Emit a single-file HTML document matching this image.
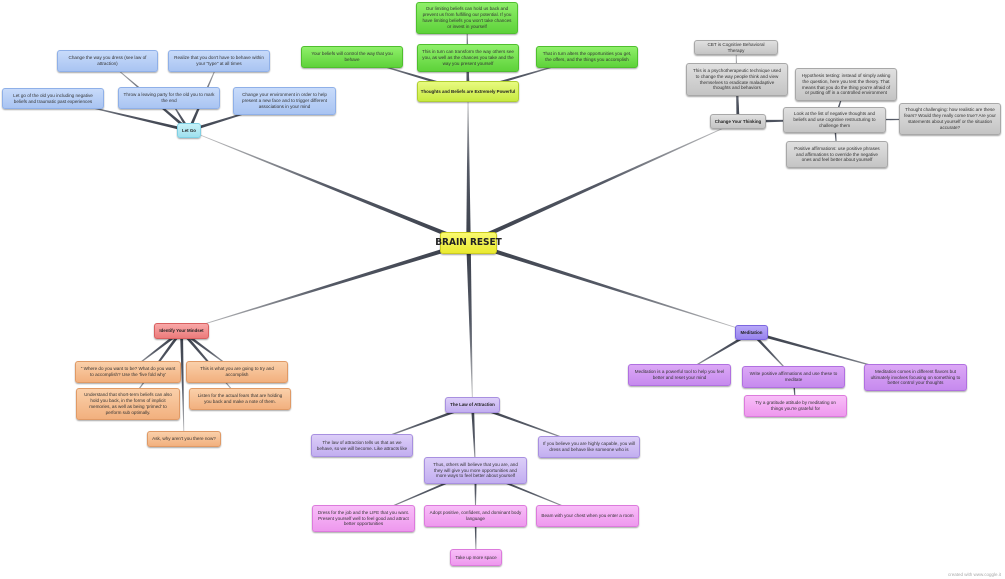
<!DOCTYPE html>
<html><head><meta charset="utf-8"><style>
body{margin:0;width:1005px;height:579px;background:#fff;position:relative;overflow:hidden;font-family:"Liberation Sans",sans-serif}
svg{position:absolute;left:0;top:0}
.n{position:absolute;box-sizing:border-box;border-radius:3px;display:flex;align-items:center;justify-content:center;text-align:center;font-size:4.6px;line-height:5.8px;color:#333;padding:1px 4px;box-shadow:0 1px 1.5px rgba(0,0,0,.35)}
.b{font-weight:bold;color:#222;white-space:nowrap;padding:0;font-size:4.4px}
.blue{background:linear-gradient(#c8dbfa,#a9c4f2);border:1px solid #8fb0e8}
.cyan{background:linear-gradient(#c6f2f8,#9fe0ee);border:1px solid #7fd0e4}
.green{background:linear-gradient(#8ff06a,#5ed23a);border:1px solid #4fbf2e}
.yg{background:linear-gradient(#e8fa80,#c8ea40);border:1px solid #b0d030}
.gray{background:linear-gradient(#e0e0e0,#c4c4c4);border:1px solid #a8a8a8}
.red{background:linear-gradient(#f8a8a8,#ec7b7b);border:1px solid #d86060}
.org{background:linear-gradient(#fad0aa,#f2b07e);border:1px solid #e09a66}
.lav{background:linear-gradient(#dccef8,#c2aef0);border:1px solid #a890e0}
.pur{background:linear-gradient(#dca8f6,#c68aee);border:1px solid #b070e0}
.pink{background:linear-gradient(#f8bef8,#ee98ee);border:1px solid #dc7adc}
.med{background:linear-gradient(#b8a8f8,#9884ee);border:1px solid #7c66e0}
.center{background:linear-gradient(#fafa70,#eaea30);border:1px solid #cccc20;font-family:"DejaVu Sans Condensed","Liberation Sans Narrow","Liberation Sans",sans-serif;font-size:10px;font-weight:bold;letter-spacing:0;color:#222;white-space:nowrap;padding:0}
</style></head><body>
<svg id="s" width="1005" height="579"></svg>
<div id="c"></div>
<div style="position:absolute;right:4px;bottom:2px;font-size:4.5px;color:#aaa">created with www.coggle.it</div>
<script>
var N={
C:[440,232,57,22,'BRAIN RESET','center'],
LG:[177,123,24,15,'Let Go','cyan b'],
L1:[57,50,101,22,'Change the way you dress (see law of attraction)','blue'],
L2:[168,50,102,22,'Realize that you don\'t have to behave within your "type" at all times','blue'],
L3:[2,88,102,21,'Let go of the old you including negative beliefs and traumatic past experiences','blue'],
L4:[118,87,102,22,'Throw a leaving party for the old you to mark the end','blue'],
L5:[233,87,103,28,'Change your environment in order to help present a new face and to trigger different associations in your mind','blue'],
T:[417,81,102,21,'Thoughts and Beliefs are Extremely Powerful','yg b'],
T1:[416,2,102,32,'Our limiting beliefs can hold us back and prevent us from fulfilling our potential. If you have limiting beliefs you won\'t take chances or invest in yourself','green'],
T2:[301,46,102,22,'Your beliefs will control the way that you behave','green'],
T3:[417,44,102,28,'This in turn can transform the way others see you, as well as the chances you take and the way you present yourself','green'],
T4:[536,46,102,22,'That in turn alters the opportunities you get, the offers, and the things you accomplish','green'],
CY:[710,114,56,15,'Change Your Thinking','gray b'],
C1:[694,40,84,15,'CBT is Cognitive Behavioral Therapy','gray'],
C2:[686,63,102,33,'This is a psychotherapeutic technique used to change the way people think and view themselves to eradicate maladaptive thoughts and behaviors','gray'],
C3:[795,68,102,33,'Hypothesis testing: instead of simply asking the question, here you test the theory. That means that you do the thing you\'re afraid of or putting off in a controlled environment','gray'],
C4:[783,107,103,26,'Look at the list of negative thoughts and beliefs and use cognitive restructuring to challenge them','gray'],
C5:[899,103,102,32,'Thought challenging: how realistic are these fears? Would they really come true? Are your statements about yourself or the situation accurate?','gray'],
C6:[786,141,102,27,'Positive affirmations: use positive phrases and affirmations to override the negative ones and feel better about yourself','gray'],
I:[154,323,55,16,'Identify Your Mindset','red b'],
I1:[75,361,106,22,'" Where do you want to be? What do you want to accomplish? Use the \'five fold why\'','org'],
I2:[186,361,102,22,'This is what you are going to try and accomplish','org'],
I3:[76,388,104,32,'Understand that short-term beliefs can also hold you back, in the forms of implicit memories, as well as being \'primed\' to perform sub optimally.','org'],
I4:[189,388,102,22,'Listen for the actual fears that are holding you back and make a note of them.','org'],
I5:[147,431,74,16,'Ask, why aren\'t you there now?','org'],
A:[445,397,55,16,'The Law of Attraction','lav b'],
A1:[311,434,102,23,'The law of attraction tells us that as we behave, so we will become. Like attracts like','lav'],
A2:[538,436,102,22,'If you believe you are highly capable, you will dress and behave like someone who is','lav'],
A3:[424,457,103,27,'Thus, others will believe that you are, and they will give you more opportunities and more ways to feel better about yourself','lav'],
A4:[312,505,103,27,'Dress for the job and the LIFE that you want. Present yourself well to feel good and attract better opportunities','pink'],
A5:[424,505,103,22,'Adopt positive, confident, and dominant body language','pink'],
A6:[536,505,103,22,'Beam with your chest when you enter a room','pink'],
A7:[450,549,52,17,'Take up more space','pink'],
M:[735,325,33,15,'Meditation','med b'],
M1:[628,364,103,22,'Meditation is a powerful tool to help you feel better and reset your mind','pur'],
M2:[742,366,103,22,'Write positive affirmations and use these to meditate','pur'],
M3:[864,364,103,27,'Meditation comes in different flavors but ultimately involves focusing on something to better control your thoughts','pur'],
M4:[744,395,103,22,'Try a gratitude attitude by meditating on things you\'re grateful for','pink']
};
var E=[['C','LG',4.5],['C','T',4.5],['C','CY',4.5],['C','I',4.5],['C','A',4.5],['C','M',4.5],
['LG','L1',3],['LG','L2',3],['LG','L3',3],['LG','L4',3],['LG','L5',3],
['T','T1',3],['T','T2',3],['T','T3',3],['T','T4',3],
['CY','C1',3],['CY','C2',3],['CY','C4',3],['C4','C3',2],['C4','C5',2],['C4','C6',2],
['I','I1',3],['I','I2',3],['I','I3',3],['I','I4',3],['I','I5',3],
['A','A1',3],['A','A2',3],['A','A3',3],['A3','A4',2.5],['A3','A5',2.5],['A3','A6',2.5],['A5','A7',2],
['M','M1',3],['M','M2',3],['M','M3',3],['M2','M4',2]];
function ctr(k){var n=N[k];return [n[0]+n[2]/2,n[1]+n[3]/2];}
var s='',g=[];
E.forEach(function(e,i){var a=ctr(e[0]),b=ctr(e[1]);var dx=b[0]-a[0],dy=b[1]-a[1],L=Math.hypot(dx,dy),px=-dy/L,py=dx/L,w1=e[2]/2,w2=0.3;
g.push('<linearGradient id="q'+i+'" gradientUnits="userSpaceOnUse" x1="'+a[0]+'" y1="'+a[1]+'" x2="'+b[0]+'" y2="'+b[1]+'"><stop offset="0" stop-color="#3a3f4a"/><stop offset="0.5" stop-color="#555a66"/><stop offset="1" stop-color="#c8c8c8"/></linearGradient>');
s+='<polygon points="'+(a[0]+px*w1)+','+(a[1]+py*w1)+' '+(b[0]+px*w2)+','+(b[1]+py*w2)+' '+(b[0]-px*w2)+','+(b[1]-py*w2)+' '+(a[0]-px*w1)+','+(a[1]-py*w1)+'" fill="url(#q'+i+')"/>';});
document.getElementById('s').innerHTML='<defs>'+g.join('')+'</defs>'+s;
var h='';for(var k in N){var n=N[k];h+='<div class="n '+n[5]+'" style="left:'+n[0]+'px;top:'+n[1]+'px;width:'+n[2]+'px;height:'+n[3]+'px">'+n[4]+'</div>';}
document.getElementById('c').innerHTML=h;
</script>
</body></html>
